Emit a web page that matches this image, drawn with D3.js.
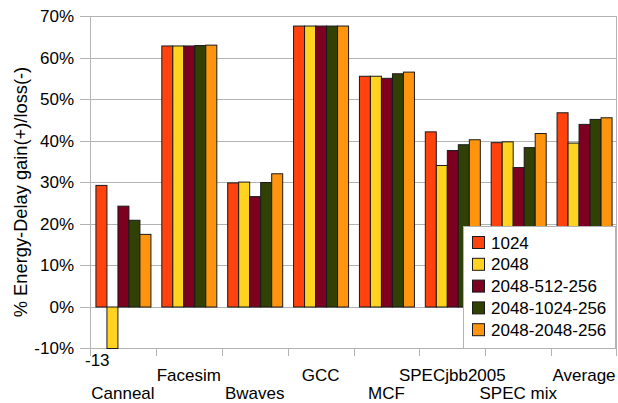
<!DOCTYPE html>
<html>
<head>
<meta charset="utf-8">
<script src="https://cdn.jsdelivr.net/npm/d3@7/dist/d3.min.js"></script>
<style>
  html, body { margin: 0; padding: 0; background: #fff; }
  svg { display: block; font-family: "Liberation Sans", Arial, sans-serif; }
</style>
</head>
<body>
<svg id="chart" width="618" height="403"></svg>
<script>
const categories = ["Canneal", "Facesim", "Bwaves", "GCC", "MCF", "SPECjbb2005", "SPEC mix", "Average"];
const seriesNames = ["1024", "2048", "2048-512-256", "2048-1024-256", "2048-2048-256"];
const seriesColors = ["#ff420e", "#ffd320", "#7e0021", "#314004", "#ff950e"];
const s1024 = [29.3, 62.9, 29.9, 67.7, 55.6, 42.2, 39.6, 46.8];
const s2048 = [-13, 62.9, 30.1, 67.7, 55.6, 34.1, 39.8, 39.5];
const s2048_512 = [24.3, 62.9, 26.6, 67.7, 55.1, 37.7, 33.6, 44.0];
const s2048_1024 = [20.9, 63.0, 30.0, 67.7, 56.2, 39.1, 38.4, 45.2];
const s2048_2048 = [17.5, 63.1, 32.1, 67.7, 56.6, 40.3, 41.8, 45.6];
const seriesValues = [s1024, s2048, s2048_512, s2048_1024, s2048_2048];
const yTicks = [-10, 0, 10, 20, 30, 40, 50, 60, 70];
const clippedLabel = "-13";

const svg = d3.select("#chart");
const L = 90, R = 617, T = 16, B = 348;
const grid = "#b3b3b3";

const x0 = d3.scaleBand().domain(categories).range([L, R]).paddingInner(0.165).paddingOuter(0.0825);
const x1 = d3.scaleBand().domain(seriesNames).range([0, x0.bandwidth()]).padding(0);
const y = d3.scaleLinear().domain([-10, 70]).range([B, T]).clamp(true);

// gridlines + y ticks
svg.append("g").selectAll("line").data(yTicks).join("line")
  .attr("x1", L - 10).attr("x2", R)
  .attr("y1", d => Math.round(y(d)) + 0.5).attr("y2", d => Math.round(y(d)) + 0.5)
  .attr("stroke", grid).attr("stroke-width", 1);

svg.append("g").selectAll("text").data(yTicks).join("text")
  .attr("x", 74).attr("y", d => y(d)).attr("dy", "0.36em")
  .attr("text-anchor", "end").attr("font-size", 17).attr("fill", "#000")
  .text(d => d + "%");

// frame
svg.append("line").attr("x1", L + 0.5).attr("x2", L + 0.5).attr("y1", T).attr("y2", B + 8).attr("stroke", grid);
svg.append("line").attr("x1", R - 0.5).attr("x2", R - 0.5).attr("y1", T).attr("y2", B + 8).attr("stroke", grid);

// category boundary ticks
const bounds = categories.map(c => x0(c) - x0.step() * x0.paddingInner() / 2);
svg.append("g").selectAll("line").data(bounds.slice(1)).join("line")
  .attr("x1", d => Math.round(d) + 0.5).attr("x2", d => Math.round(d) + 0.5)
  .attr("y1", B).attr("y2", B + 8).attr("stroke", grid);

// bars
const groups = svg.append("g").selectAll("g").data(categories).join("g")
  .attr("transform", c => `translate(${x0(c)},0)`);
groups.selectAll("rect").data((c, i) => seriesNames.map((s, j) => ({ s, v: seriesValues[j][i], j })))
  .join("rect")
  .attr("x", d => x1(d.s) + 0.5)
  .attr("width", x1.bandwidth())
  .attr("y", d => Math.min(y(d.v), y(0)) + 0.5)
  .attr("height", d => Math.abs(y(d.v) - y(0)))
  .attr("fill", d => seriesColors[d.j])
  .attr("stroke", "#1a1a1a").attr("stroke-width", 1);

// clipped value label
svg.append("text").attr("x", 85).attr("y", 366).attr("font-size", 17).attr("fill", "#000").text(clippedLabel);

// category labels (staggered)
svg.append("g").selectAll("text").data(categories).join("text")
  .attr("x", c => x0(c) + x0.bandwidth() / 2)
  .attr("y", (c, i) => i % 2 === 0 ? 399 : 381)
  .attr("text-anchor", "middle").attr("font-size", 17).attr("fill", "#000")
  .text(c => c);

// y axis title
svg.append("text")
  .attr("transform", "translate(27,192) rotate(-90)")
  .attr("text-anchor", "middle").attr("font-size", 18.3).attr("fill", "#000")
  .text("% Energy-Delay gain(+)/loss(-)");

// legend
const lg = svg.append("g");
lg.append("rect").attr("x", 463.5).attr("y", 226.5).attr("width", 152).attr("height", 122)
  .attr("fill", "#fff").attr("stroke", grid);
const items = lg.selectAll("g").data(seriesNames).join("g")
  .attr("transform", (d, i) => `translate(472,${236 + i * 21.8})`);
items.append("rect").attr("x", 0.5).attr("y", 0.5).attr("width", 12).attr("height", 12)
  .attr("fill", (d, i) => seriesColors[i]).attr("stroke", "#1a1a1a");
items.append("text").attr("x", 19).attr("y", 6.5).attr("dy", "0.36em")
  .attr("font-size", 17).attr("fill", "#000").text(d => d);
</script>
</body>
</html>
